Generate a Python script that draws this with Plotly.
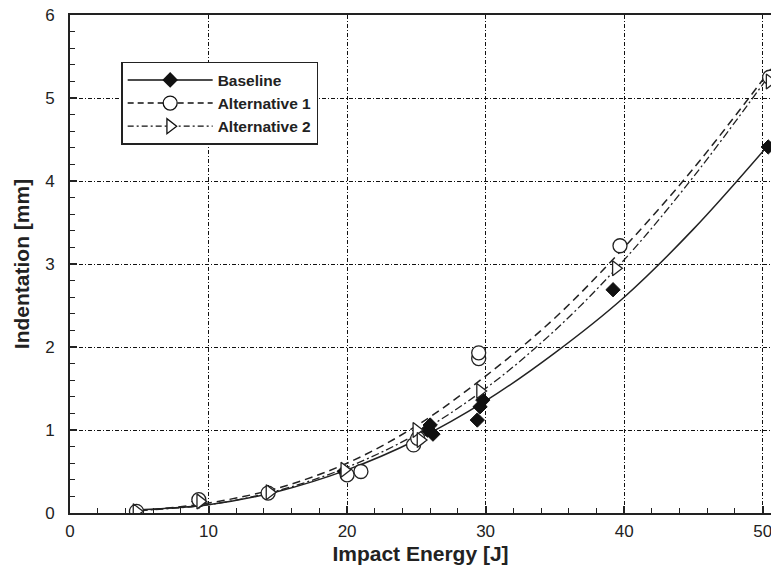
import plotly.graph_objects as go

# ---- measured data points ----
base_x = [4.8, 9.3, 14.3, 19.8, 25.8, 26.0, 26.2, 29.4, 29.6, 29.8, 39.2, 50.4]
base_y = [0.02, 0.14, 0.25, 0.50, 1.00, 1.06, 0.95, 1.12, 1.28, 1.36, 2.69, 4.41]

alt1_x = [4.8, 9.3, 14.3, 20.0, 21.0, 24.8, 25.1, 29.5, 29.5, 39.7, 50.5]
alt1_y = [0.02, 0.16, 0.24, 0.46, 0.50, 0.82, 0.90, 1.86, 1.93, 3.22, 5.25]

alt2_x = [4.8, 9.4, 14.4, 19.8, 25.0, 25.3, 29.6, 39.4, 50.5]
alt2_y = [0.02, 0.14, 0.25, 0.52, 1.00, 0.88, 1.47, 2.95, 5.20]

# ---- fitted curves ----
fit_x = [5, 10, 15, 20, 25, 30, 35, 40, 45, 50.6]
fit_base = [0.04, 0.10, 0.26, 0.52, 0.88, 1.35, 1.93, 2.60, 3.42, 4.47]
fit_alt1 = [0.03, 0.12, 0.30, 0.60, 1.05, 1.65, 2.35, 3.20, 4.15, 5.35]
fit_alt2 = [0.03, 0.10, 0.27, 0.55, 0.95, 1.50, 2.20, 3.05, 4.05, 5.30]

x_ticks = [0, 10, 20, 30, 40, 50]
y_ticks = [0, 1, 2, 3, 4, 5, 6]

FONT = "Liberation Sans, Arial, sans-serif"

fig = go.Figure()

# fitted lines
fig.add_trace(go.Scatter(x=fit_x, y=fit_base, mode="lines", line=dict(color="#222", width=1.5, shape="spline"),
                         showlegend=False, hoverinfo="skip"))
fig.add_trace(go.Scatter(x=fit_x, y=fit_alt1, mode="lines", line=dict(color="#222", width=1.5, dash="8px,5px", shape="spline"),
                         showlegend=False, hoverinfo="skip"))
fig.add_trace(go.Scatter(x=fit_x, y=fit_alt2, mode="lines", line=dict(color="#222", width=1.3, dash="8px,3px,2px,3px", shape="spline"),
                         showlegend=False, hoverinfo="skip"))

# data markers
fig.add_trace(go.Scatter(x=base_x, y=base_y, mode="markers", showlegend=False,
                         marker=dict(symbol="diamond", size=11, color="#111", line=dict(color="#111", width=1))))
fig.add_trace(go.Scatter(x=alt1_x, y=alt1_y, mode="markers", showlegend=False,
                         marker=dict(symbol="circle", size=14, color="white", line=dict(color="#222", width=1.3))))
fig.add_trace(go.Scatter(x=alt2_x, y=alt2_y, mode="markers", showlegend=False,
                         marker=dict(symbol="triangle-right", size=13, color="white", line=dict(color="#222", width=1.3))))

# legend entries (line + marker)
fig.add_trace(go.Scatter(x=[None], y=[None], mode="lines+markers", name="<b>Baseline</b>",
                         line=dict(color="#111", width=1.5),
                         marker=dict(symbol="diamond", size=12, color="#111")))
fig.add_trace(go.Scatter(x=[None], y=[None], mode="lines+markers", name="<b>Alternative 1</b>",
                         line=dict(color="#111", width=1.5, dash="6px,4px"),
                         marker=dict(symbol="circle", size=14, color="white", line=dict(color="#111", width=1.3))))
fig.add_trace(go.Scatter(x=[None], y=[None], mode="lines+markers", name="<b>Alternative 2</b>",
                         line=dict(color="#111", width=1.3, dash="6px,3px,2px,3px"),
                         marker=dict(symbol="triangle-right", size=13, color="white", line=dict(color="#111", width=1.3))))

grid = dict(showgrid=True, gridcolor="#111", gridwidth=1, griddash="4px,2px,1px,2px")

fig.update_xaxes(range=[0, 50.6], tickvals=x_ticks, ticktext=[str(v) for v in x_ticks],
                 ticks="inside", ticklen=7, tickwidth=1.5, tickcolor="#222", ticklabelstandoff=2,
                 ticklabeloverflow="allow",
                 minor=dict(dtick=2, tick0=0, ticks="inside", ticklen=5, tickwidth=1.2, tickcolor="#222", showgrid=False),
                 showline=True, linecolor="#222", linewidth=2, mirror=True, zeroline=False,
                 tickfont=dict(family=FONT, size=17, color="#222"),
                 title=dict(text="<b>Impact Energy [J]</b>", font=dict(family=FONT, size=21, color="#222"), standoff=6),
                 **grid)
fig.update_yaxes(range=[0, 6], tickvals=y_ticks, ticktext=[str(v) for v in y_ticks],
                 ticks="inside", ticklen=7, tickwidth=1.5, tickcolor="#222", ticklabelstandoff=10,
                 ticklabeloverflow="allow",
                 minor=dict(dtick=0.2, tick0=0, ticks="inside", ticklen=5, tickwidth=1.2, tickcolor="#222", showgrid=False),
                 showline=True, linecolor="#222", linewidth=2, zeroline=False,
                 tickfont=dict(family=FONT, size=17, color="#222"),
                 title=dict(text="<b>Indentation [mm]</b>", font=dict(family=FONT, size=21, color="#222"), standoff=10),
                 **grid)

fig.update_layout(
    width=771, height=571,
    margin=dict(l=70, r=0, t=15, b=58, autoexpand=False),
    plot_bgcolor="white", paper_bgcolor="white",
    font=dict(family=FONT, color="#222"),
    legend=dict(x=0.073, y=0.906, xanchor="left", yanchor="top",
                bgcolor="white", bordercolor="#222", borderwidth=1.5,
                font=dict(family=FONT, size=15.5, color="#222"),
                tracegroupgap=0, itemwidth=85),
)

fig.write_html("out.html",
               config={"displayModeBar": False},
               post_script="document.body.style.margin='0';document.body.style.overflow='hidden';")
